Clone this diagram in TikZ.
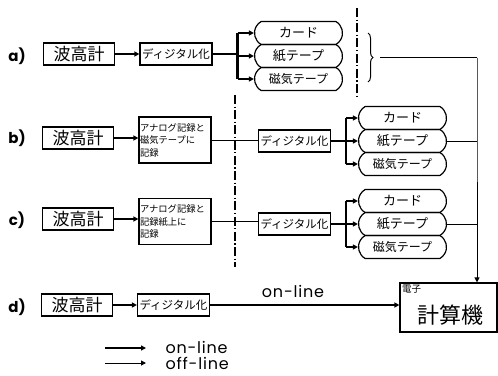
\documentclass[tikz,border=0pt]{standalone}
\usepackage{fontspec}
\setmainfont{Poppins}
\newfontfamily\jp{Noto Sans CJK JP}
\newfontfamily\latf[LetterSpace=5]{Poppins}
\usetikzlibrary{arrows.meta,shapes.misc,decorations.pathreplacing}
\tikzset{
  box/.style={draw, line width=1.2pt, inner sep=0pt},
  wbox/.style={box, minimum width=71pt, minimum height=22pt, font=\jp\fontsize{17}{17}\selectfont},
  dbox/.style={box, minimum width=72pt, minimum height=22pt, font=\jp\fontsize{11.5}{11.5}\selectfont},
  abox/.style={box, minimum width=72pt, minimum height=46pt, text width=70pt, align=left, font=\jp\fontsize{9.3}{12.5}\selectfont},
  card/.style={draw, line width=1.2pt, rounded rectangle, rounded rectangle arc length=120, minimum width=88pt, minimum height=23pt, inner sep=0pt, font=\jp\fontsize{13}{13}\selectfont},
  tip/.style={-{Triangle[length=5pt,width=5pt]}},
  onl/.style={line width=2.4pt},
  on/.style={onl, tip},
  off/.style={line width=1pt},
  offa/.style={off, tip},
  dashdot/.style={line width=1.2pt, dash pattern=on 9pt off 2.5pt on 1.2pt off 2.5pt},
  lab/.style={font=\bfseries\fontsize{15}{15}\selectfont},
  lat/.style={font=\latf\fontsize{16}{16}\selectfont}
}
\begin{document}
\begin{tikzpicture}[x=1pt,y=-1pt]
\useasboundingbox (0,0) rectangle (498,375);
% row a
\node[lab] (la) at (17,56) {a)};
\node[wbox] (wa) at (79,54) {波高計};
\node[dbox] (da) at (176,54) {ディジタル化};
\node[card] (ca1) at (298.5,33) {カード};
\node[card] (ca2) at (298.5,56) {紙テープ};
\node[card, font=\jp\fontsize{12}{12}\selectfont] (ca3) at (298.5,79) {磁気テープ};
\draw[on] (wa.east) -- (da.west);
\draw[onl] (da.east) -- ++(25,0) coordinate (ja);
\draw[onl] (ja |- ca1) -- (ja |- ca3);
\draw[on] (ja |- ca1) -- (ca1.west);
\draw[on] (ja |- ca2) -- (ca2.west);
\draw[on] (ja |- ca3) -- (ca3.west);
\draw[dashdot] (357,8) coordinate (t1) -- (357,97) coordinate (t2);
\draw[dashdot] (235,95) coordinate (t3) -- (235,267) coordinate (t4);
\draw[off, decorate, decoration={brace, amplitude=5pt}] (368,33) coordinate (br1) -- (368,82) coordinate (br2);
\coordinate (brt) at (380,57.5);
\coordinate (jr) at (477,57.5);
\draw[off] (brt) -- (jr);
% row b
\node[lab] (lb) at (17,138) {b)};
\node[wbox] (wb) at (78,138) {波高計};
\node[abox] (ab) at (175,140) {アナログ記録と\\磁気テープに\\記録};
\node[dbox] (db) at (294.5,141) {ディジタル化};
\node[card] (cb1) at (402.5,118) {カード};
\node[card] (cb2) at (402.5,141) {紙テープ};
\node[card, font=\jp\fontsize{12}{12}\selectfont] (cb3) at (402.5,164) {磁気テープ};
\draw[on] (wb.east) -- (wb.east -| ab.west);
\draw[off] (ab.east) -- (ab.east -| db.west);
\draw[onl] (db.east) -- ++(15,0) coordinate (jb);
\draw[onl] (jb |- cb1) -- (jb |- cb3);
\draw[on] (jb |- cb1) -- (cb1.west);
\draw[on] (jb) -- (cb2.west);
\draw[on] (jb |- cb3) -- (cb3.west);
\draw[off] (cb2.east) -- (cb2.east -| jr);
% row c
\node[lab] (lc) at (17,220) {c)};
\node[wbox] (wc) at (78,219) {波高計};
\node[abox] (ac) at (175,221.5) {アナログ記録と\\記録紙上に\\記録};
\node[dbox] (dc) at (294.5,224) {ディジタル化};
\node[card] (cc1) at (402.5,201) {カード};
\node[card] (cc2) at (402.5,224) {紙テープ};
\node[card, font=\jp\fontsize{12}{12}\selectfont] (cc3) at (402.5,247) {磁気テープ};
\draw[on] (wc.east) -- (wc.east -| ac.west);
\draw[off] (ac.east) -- (ac.east -| dc.west);
\draw[onl] (dc.east) -- ++(15,0) coordinate (jc);
\draw[onl] (jc |- cc1) -- (jc |- cc3);
\draw[on] (jc |- cc1) -- (cc1.west);
\draw[on] (jc) -- (cc2.west);
\draw[on] (jc |- cc3) -- (cc3.west);
\draw[off] (cc2.east) -- (cc2.east -| jr);
% row d
\node[lab] (ld) at (17,307) {d)};
\node[wbox] (wd) at (77,305) {波高計};
\node[dbox] (dgd) at (173.5,305) {ディジタル化};
\node[box, minimum width=97pt, minimum height=49pt] (comp) at (448.5,307.5) {};
\node[font=\jp\fontsize{9.5}{9.5}\selectfont, anchor=north west, inner sep=0pt] (cs) at (402,285) {電子};
\node[font=\jp\fontsize{22}{22}\selectfont] (cm) at (450,315) {計算機};
\draw[on] (wd.east) -- (dgd.west);
\draw[on] (dgd.east) -- (dgd.east -| comp.west);
\node[lat] (ol) at (293,291) {on-line};
\draw[off] (jr) -- (jr |- cb2) -- (jr |- cc2);
\draw[offa] (jr |- cc2) -- (jr |- comp.north);
% legend
\coordinate (l1s) at (105,348);
\coordinate (l1e) at (146,348);
\coordinate (l2s) at (105,363);
\coordinate (l2e) at (146,363);
\draw[on] (l1s) -- (l1e);
\draw[offa] (l2s) -- (l2e);
\node[lat, anchor=west] (l1t) at (162,347) {on-line};
\node[lat, anchor=west] (l2t) at (162,363) {off-line};
\end{tikzpicture}
\end{document}
